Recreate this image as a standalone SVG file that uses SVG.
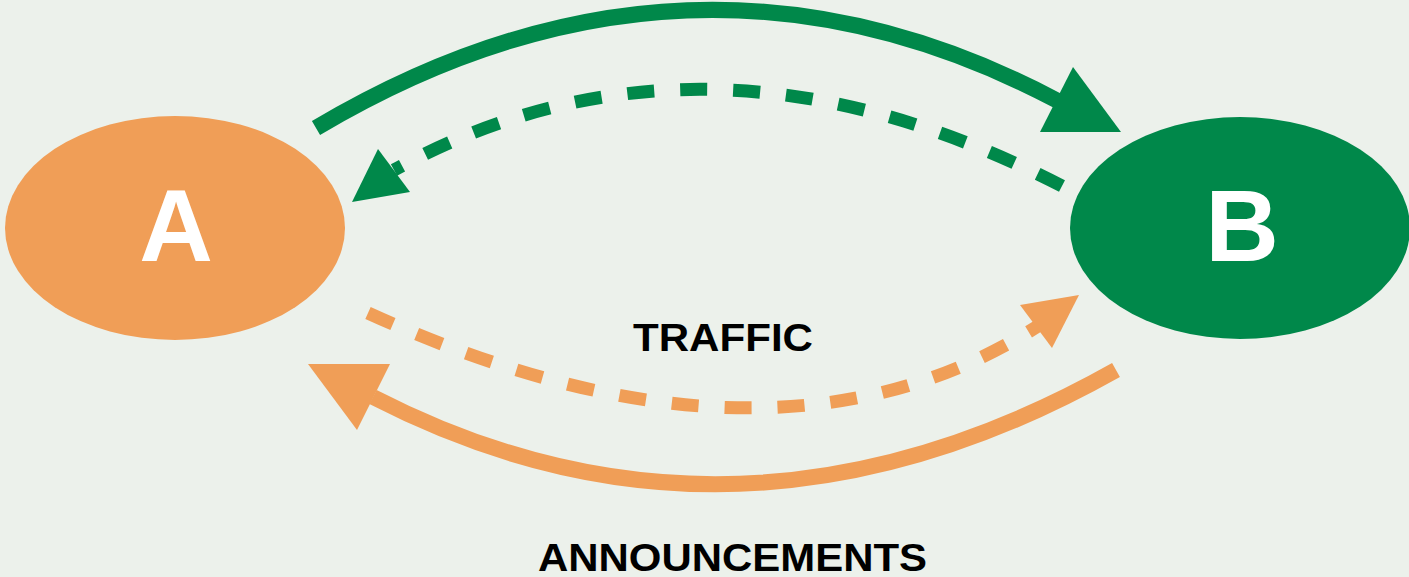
<svg xmlns="http://www.w3.org/2000/svg" width="1409" height="577" viewBox="0 0 1409 577">
<style>
.bg{fill:#ECF1EB}
.green{fill:#00884A}
.orange{fill:#F09E57}
.nlabel{font-family:"Liberation Sans",Arial,sans-serif;font-weight:bold;font-size:102px;fill:#FFFFFF;text-anchor:middle}
.elabel{font-family:"Liberation Sans",Arial,sans-serif;font-weight:bold;fill:#000000;text-anchor:middle}
.solid-g{fill:none;stroke:#00884A;stroke-width:16}
.dash-g{fill:none;stroke:#00884A;stroke-width:13;stroke-dasharray:27 26}
.solid-o{fill:none;stroke:#F09E57;stroke-width:16}
.dash-o{fill:none;stroke:#F09E57;stroke-width:13;stroke-dasharray:27 26}
.head-g{fill:#00884A}
.head-o{fill:#F09E57}
</style>
<rect class="bg" x="0" y="0" width="1409" height="577"/>
<g id="connectors">
  <path class="solid-g" d="M316,128 Q690,-94 1058,101"/>
  <polygon class="head-g" points="1073,67 1040,132 1121,132"/>
  <path class="dash-g" d="M1062,186 Q702,1 394,170"/>
  <polygon class="head-g" points="352,202 378,149 410,192"/>
  <path class="dash-o" d="M368,313 Q771,496 1038,326"/>
  <polygon class="head-o" points="1020,305 1079,295 1052,348"/>
  <path class="solid-o" d="M1116,370 Q736,584 373,397"/>
  <polygon class="head-o" points="308,364 390,364 357,430"/>
</g>
<g id="node-A">
  <ellipse class="orange" cx="175" cy="228" rx="170" ry="112"/>
  <text class="nlabel" x="176" y="261">A</text>
</g>
<g id="node-B">
  <ellipse class="green" cx="1240" cy="228" rx="170" ry="111"/>
  <text class="nlabel" x="1242" y="261">B</text>
</g>
<g id="label-traffic">
  <text class="elabel" x="723" y="351" font-size="38" textLength="180" lengthAdjust="spacingAndGlyphs">TRAFFIC</text>
</g>
<g id="label-announcements">
  <text class="elabel" x="732.5" y="571" font-size="39" textLength="389" lengthAdjust="spacingAndGlyphs">ANNOUNCEMENTS</text>
</g>
</svg>
